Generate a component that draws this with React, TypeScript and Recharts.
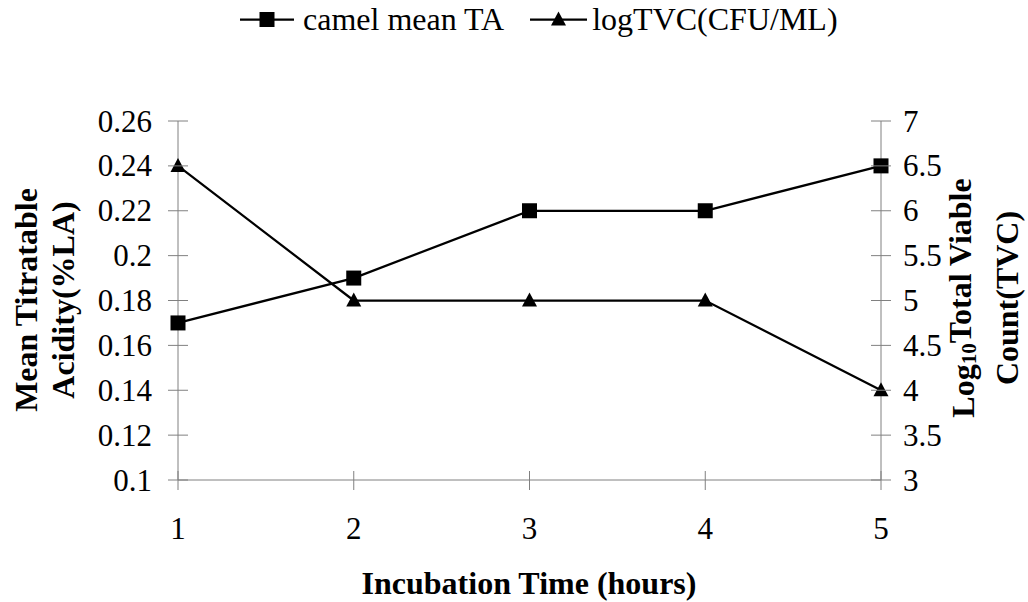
import { LineChart, Line, XAxis, YAxis, Legend } from 'recharts';

const hours = [1, 2, 3, 4, 5];
const camelTA = [0.17, 0.19, 0.22, 0.22, 0.24];
const logTVC = [6.5, 5, 5, 5, 4];
const leftTicks = [0.1, 0.12, 0.14, 0.16, 0.18, 0.2, 0.22, 0.24, 0.26];
const rightTicks = [3, 3.5, 4, 4.5, 5, 5.5, 6, 6.5, 7];

const data = hours.map((h, i) => ({ hour: h, ta: camelTA[i], tvc: logTVC[i] }));

const serif = '"Liberation Serif", "Times New Roman", serif';
const axisGray = '#808080';
const fs = 31;
const titleFs = 32;

function LeftTick(p: any) {
  return (
    <g>
      <line x1={p.x - 10} x2={p.x + 10} y1={p.y} y2={p.y} stroke={axisGray} />
      <text x={p.x - 26} y={p.y} textAnchor="end" dominantBaseline="central" fontFamily={serif} fontSize={fs} fill="#000">
        {p.payload.value}
      </text>
    </g>
  );
}

function RightTick(p: any) {
  return (
    <g>
      <line x1={p.x - 10} x2={p.x + 10} y1={p.y} y2={p.y} stroke={axisGray} />
      <text x={p.x + 22} y={p.y} textAnchor="start" dominantBaseline="central" fontFamily={serif} fontSize={fs} fill="#000">
        {p.payload.value}
      </text>
    </g>
  );
}

function BottomTick(p: any) {
  return (
    <g>
      <line x1={p.x} x2={p.x} y1={p.y - 9} y2={p.y + 10} stroke={axisGray} />
      <text x={p.x} y={p.y + 48} textAnchor="middle" dominantBaseline="central" fontFamily={serif} fontSize={fs} fill="#000">
        {p.payload.value}
      </text>
    </g>
  );
}

function SquareDot(p: any) {
  if (p.cx == null) return null;
  return <rect x={p.cx - 7.5} y={p.cy - 7.5} width={15} height={15} fill="#000" />;
}

function TriangleDot(p: any) {
  if (p.cx == null) return null;
  return <polygon points={`${p.cx},${p.cy - 8} ${p.cx - 7.5},${p.cy + 6} ${p.cx + 7.5},${p.cy + 6}`} fill="#000" />;
}

function rotated(cx: number, cy: number, content: any) {
  return (
    <text
      transform={`translate(${cx},${cy}) rotate(-90)`}
      textAnchor="middle"
      dominantBaseline="central"
      fontFamily={serif}
      fontSize={titleFs}
      fontWeight="bold"
      fill="#000"
    >
      {content}
    </text>
  );
}

function LeftTitle() {
  return (
    <g>
      {rotated(26, 300, 'Mean Titratable')}
      {rotated(63, 300, 'Acidity(%LA)')}
    </g>
  );
}

function RightTitle() {
  return (
    <g>
      {rotated(963, 298, (
        <>
          <tspan>Log</tspan>
          <tspan dy="0.3em" fontSize={21}>10</tspan>
          <tspan dy="-0.3em">Total Viable</tspan>
        </>
      ))}
      {rotated(1007, 298, 'Count(TVC)')}
    </g>
  );
}

function BottomTitle() {
  return (
    <text x={529} y={594} textAnchor="middle" fontFamily={serif} fontSize={titleFs} fontWeight="bold" fill="#000">
      Incubation Time (hours)
    </text>
  );
}

function LegendBox() {
  return (
    <div style={{ display: 'flex', alignItems: 'center', fontFamily: serif, fontSize: 32, lineHeight: '31px', color: '#000' }}>
      <svg width={54} height={31}>
        <line x1={0} x2={54} y1={15.5} y2={15.5} stroke="#000" strokeWidth={2.25} />
        <rect x={19.5} y={8} width={15} height={15} fill="#000" />
      </svg>
      <span style={{ marginLeft: 9, whiteSpace: 'nowrap' }}>camel mean TA</span>
      <svg width={57} height={31} style={{ marginLeft: 26 }}>
        <line x1={0} x2={57} y1={15.5} y2={15.5} stroke="#000" strokeWidth={2.25} />
        <polygon points="28.5,7.5 21,21.5 36,21.5" fill="#000" />
      </svg>
      <span style={{ marginLeft: 5, whiteSpace: 'nowrap' }}>logTVC(CFU/ML)</span>
    </div>
  );
}

export default function App() {
  return (
    <div style={{ position: 'absolute', left: 0, top: 0, width: 1028, height: 602, background: '#fff' }}>
      <LineChart width={1028} height={602} data={data} margin={{ top: 121, right: 146, bottom: 121, left: 177 }}>
        <XAxis
          dataKey="hour"
          type="number"
          domain={[1, 5]}
          ticks={hours}
          height={1}
          tickSize={0}
          tickMargin={0}
          tickLine={false}
          axisLine={{ stroke: axisGray }}
          tick={BottomTick}
          label={{ content: () => <BottomTitle /> }}
        />
        <YAxis
          yAxisId="left"
          orientation="left"
          domain={[0.1, 0.26]}
          ticks={leftTicks}
          width={1}
          tickSize={0}
          tickMargin={0}
          tickLine={false}
          axisLine={{ stroke: axisGray }}
          tick={LeftTick}
          interval={0}
          label={{ content: () => <LeftTitle /> }}
        />
        <YAxis
          yAxisId="right"
          orientation="right"
          domain={[3, 7]}
          ticks={rightTicks}
          width={1}
          tickSize={0}
          tickMargin={0}
          tickLine={false}
          axisLine={{ stroke: axisGray }}
          tick={RightTick}
          interval={0}
          label={{ content: () => <RightTitle /> }}
        />
        <Legend
          layout="horizontal"
          verticalAlign="middle"
          align="center"
          content={() => <LegendBox />}
          wrapperStyle={{ top: 4, left: 240, width: 'auto' }}
        />
        <Line
          yAxisId="left"
          dataKey="ta"
          name="camel mean TA"
          stroke="#000"
          strokeWidth={2.25}
          dot={<SquareDot />}
          activeDot={false}
          isAnimationActive={false}
        />
        <Line
          yAxisId="right"
          dataKey="tvc"
          name="logTVC(CFU/ML)"
          stroke="#000"
          strokeWidth={2.25}
          dot={<TriangleDot />}
          activeDot={false}
          isAnimationActive={false}
        />
      </LineChart>
    </div>
  );
}
